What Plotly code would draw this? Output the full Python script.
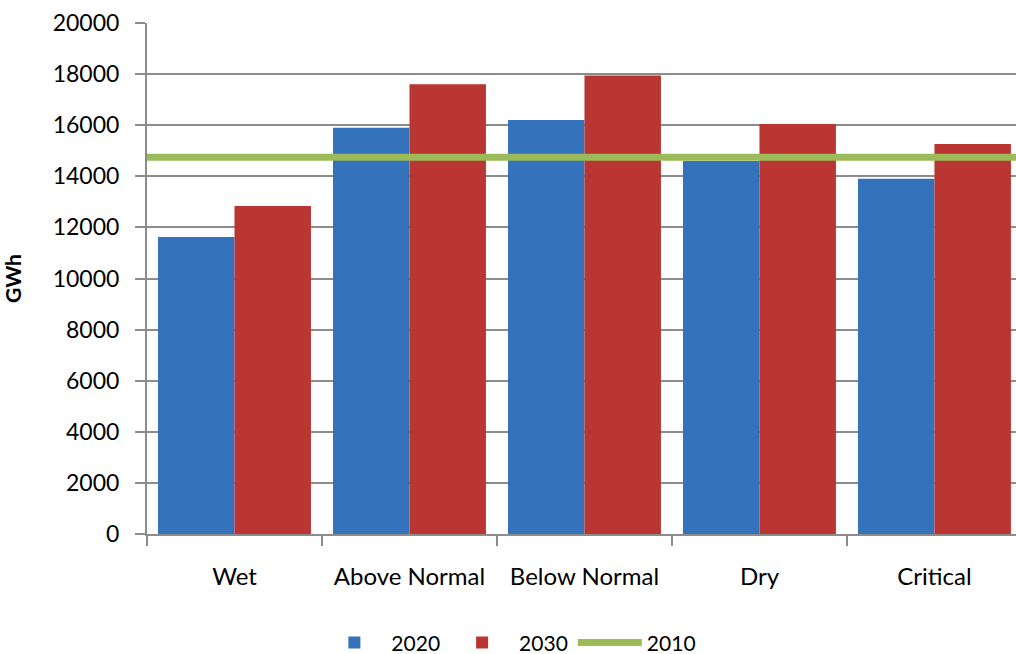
import plotly.graph_objects as go

categories = ["Wet", "Above Normal", "Below Normal", "Dry", "Critical"]
values_2020 = [11620, 15900, 16200, 14600, 13900]
values_2030 = [12840, 17600, 17950, 16050, 15260]
value_2010 = 14750
line_span = [0, 1]
y_ticks = list(range(0, 20001, 2000))

FONT = "Lato"
GRID = "#8C8C8C"

fig = go.Figure()
fig.add_trace(go.Bar(name="2020", x=categories, y=values_2020,
                     marker=dict(color="#3472BC", line=dict(width=0))))
fig.add_trace(go.Bar(name="2030", x=categories, y=values_2030,
                     marker=dict(color="#BA3633", line=dict(width=0))))
fig.add_trace(go.Scatter(name="2010", x=line_span, y=[value_2010] * len(line_span),
                         mode="lines", xaxis="x2",
                         line=dict(color="#9BBB59", width=7)))

fig.update_layout(
    width=1016, height=654,
    paper_bgcolor="white", plot_bgcolor="white",
    margin=dict(l=147, r=0, t=23, b=120, autoexpand=False),
    barmode="group", bargap=0.126, bargroupgap=0,
    font=dict(family=FONT, size=21, color="black"),
    showlegend=True,
    legend=dict(orientation="h", x=0.417, xanchor="center", y=-0.213, yanchor="middle",
                font=dict(family=FONT, size=21), traceorder="normal",
                itemwidth=64),
    xaxis=dict(range=[-0.5, 4.466], showgrid=False, showline=True, linecolor=GRID,
               linewidth=2, ticks="outside", tickson="boundaries", ticklen=10,
               tickcolor=GRID, tickwidth=2, ticklabelstandoff=20, automargin=False,
               tickfont=dict(family=FONT, size=24)),
    xaxis2=dict(range=[0, 1], overlaying="x", visible=False),
    yaxis=dict(range=[0, 20000], tickvals=y_ticks, ticktext=[str(v) for v in y_ticks],
               showgrid=True, gridcolor=GRID,
               gridwidth=2, showline=True, linecolor=GRID, linewidth=2,
               ticks="outside", ticklen=10, tickcolor=GRID, tickwidth=2,
               ticklabelstandoff=11, zeroline=False, automargin=False,
               tickfont=dict(family=FONT, size=23),
               title=dict(text="<b>GWh</b>", font=dict(family=FONT, size=21), standoff=27)),
)

fig.write_html("out.html", config={"displayModeBar": False},
               post_script="document.body.style.margin='0';document.body.style.overflow='hidden';")
